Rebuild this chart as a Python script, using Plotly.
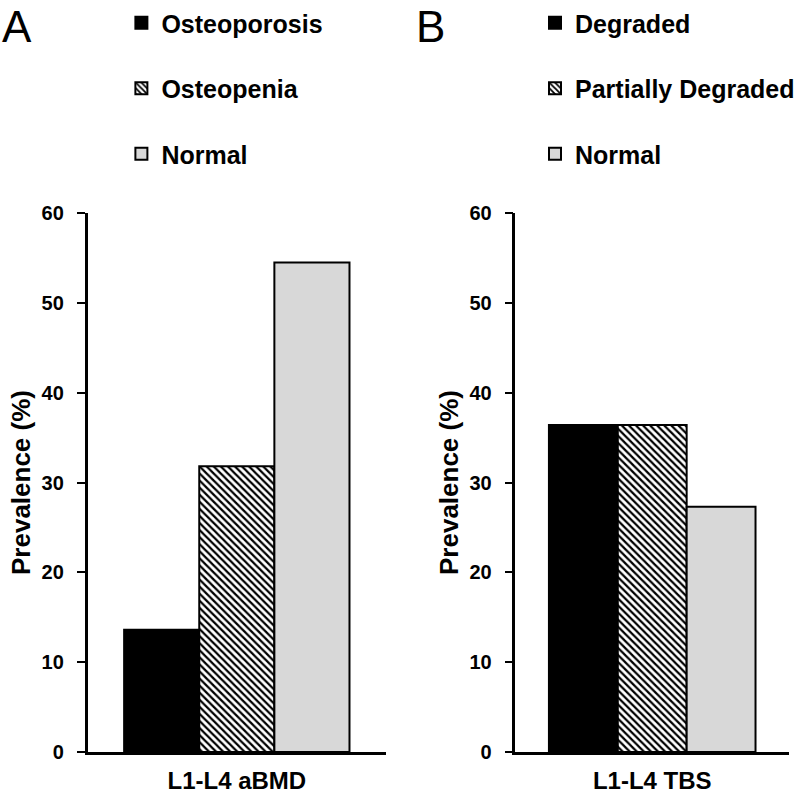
import plotly.graph_objects as go

# ---- data ----
cat_a = ["L1-L4 aBMD"]
names_a = ["Osteoporosis", "Osteopenia", "Normal"]
vals_a = [13.6, 31.8, 54.5]

cat_b = ["L1-L4 TBS"]
names_b = ["Degraded", "Partially Degraded", "Normal"]
vals_b = [36.4, 36.4, 27.3]

y_ticks = [0, 10, 20, 30, 40, 50, 60]

FONT = "Liberation Sans, Arial, sans-serif"
fills = [
    dict(color="#000000"),
    dict(color="#ffffff", pattern=dict(shape="\\", fgcolor="#000000", bgcolor="#ffffff",
                                        size=5, solidity=0.45, fillmode="replace")),
    dict(color="#d8d8d8"),
]

fig = go.Figure()

for i, (n, v) in enumerate(zip(names_a, vals_a)):
    m = dict(fills[i])
    m["line"] = dict(color="black", width=2)
    fig.add_trace(go.Bar(x=cat_a, y=[v], name=n, marker=m, xaxis="x", yaxis="y",
                         legend="legend", legendgroup="a%d" % i, hoverinfo="skip"))

for i, (n, v) in enumerate(zip(names_b, vals_b)):
    m = dict(fills[i])
    m["line"] = dict(color="black", width=2)
    fig.add_trace(go.Bar(x=cat_b, y=[v], name=n, marker=m, xaxis="x2", yaxis="y2",
                         legend="legend2", legendgroup="b%d" % i, hoverinfo="skip"))

ydom = [44 / 796, 583 / 796]
xa = dict(showline=True, linecolor="black", linewidth=2.5, ticks="", showgrid=False,
          zeroline=False, range=[-0.5, 0.5], automargin=False, ticklabelstandoff=5,
          tickfont=dict(family=FONT, size=24, color="black", weight="bold"))
ya = dict(showline=True, linecolor="black", linewidth=2.5, ticks="outside", ticklen=8,
          tickwidth=2, tickcolor="black", range=[0, 60], tickvals=y_ticks,
          showgrid=False, zeroline=False, automargin=False, ticklabelstandoff=9,
          tickfont=dict(family=FONT, size=20, color="black", weight="bold"),
          title=dict(text="Prevalence (%)", standoff=4,
                     font=dict(family=FONT, size=26, color="black", weight="bold")))

legfont = dict(family=FONT, size=25, color="black", weight="bold")

fig.update_layout(
    width=800, height=796,
    margin=dict(l=0, r=0, t=0, b=0),
    paper_bgcolor="white", plot_bgcolor="white",
    barmode="group", bargap=0.245, bargroupgap=0,
    xaxis=dict(xa, domain=[88 / 800, 388 / 800], anchor="y"),
    yaxis=dict(ya, domain=ydom, anchor="x"),
    xaxis2=dict(xa, domain=[518 / 800, 793 / 800], anchor="y2"),
    yaxis2=dict(ya, domain=ydom, anchor="x2"),
    legend=dict(x=122 / 800, y=1.0, xanchor="left", yanchor="top", traceorder="grouped",
                tracegroupgap=30, bgcolor="rgba(0,0,0,0)", font=legfont),
    legend2=dict(x=538 / 800, y=1.0, xanchor="left", yanchor="top", traceorder="grouped",
                 tracegroupgap=30, bgcolor="rgba(0,0,0,0)", font=legfont),
    annotations=[
        dict(text="A", x=0, y=1.0, xref="paper", yref="paper", xanchor="left",
             yanchor="top", showarrow=False, font=dict(family=FONT, size=44, color="black")),
        dict(text="B", x=416 / 800, y=1.0, xref="paper", yref="paper", xanchor="left",
             yanchor="top", showarrow=False, font=dict(family=FONT, size=44, color="black")),
    ],
)

fig.write_html("out.html", config=dict(displayModeBar=False),
               post_script="document.body.style.margin='0';document.body.style.overflow='hidden';")
